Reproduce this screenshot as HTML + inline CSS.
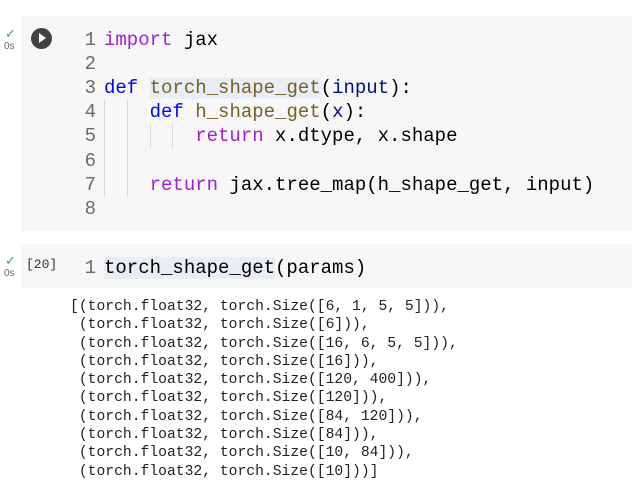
<!DOCTYPE html>
<html><head><style>
html,body{margin:0;padding:0;background:#fff;width:632px;height:500px;overflow:hidden;position:relative;font-family:"Liberation Mono",monospace}
.cell{position:absolute;background:#f7f7f7}
.ln{position:absolute;font-size:19px;line-height:24px;white-space:pre;color:#000}
.num{position:absolute;font-size:19px;line-height:24px;color:#6b6b6b;width:30px;text-align:right;left:66px}
.k{color:#a31fcf}.d{color:#0000ff}.f{color:#795e26}.p{color:#001080}
.hl{background:#e8eef4}
.g{position:absolute;width:1px;background:#d8d8d8}
.out{position:absolute;left:70px;font-size:14.7px;line-height:18.3px;white-space:pre;color:#222}
.chk{position:absolute;color:#2da44e;font-size:13px;font-family:"Liberation Sans",sans-serif}
.t{position:absolute;color:#666;font-size:10px;font-family:"Liberation Sans",sans-serif}
</style></head><body>
<div class="cell" style="left:21px;top:16px;width:611px;height:215px"></div>
<div class="chk" style="left:5px;top:26px">✓</div>
<div class="t" style="left:4px;top:41px">0s</div>
<div style="position:absolute;left:31px;top:28px;width:21px;height:21px;border-radius:50%;background:#424242"></div>
<div style="position:absolute;left:39px;top:33px;width:0;height:0;border-left:7px solid #fff;border-top:5.5px solid transparent;border-bottom:5.5px solid transparent"></div>

<div class="num" style="top:28px">1</div>
<div class="num" style="top:52px">2</div>
<div class="num" style="top:76px">3</div>
<div class="num" style="top:100px">4</div>
<div class="num" style="top:124px">5</div>
<div class="num" style="top:149px">6</div>
<div class="num" style="top:173px">7</div>
<div class="num" style="top:197px">8</div>

<div class="g" style="left:104px;top:100px;height:97px"></div>
<div class="g" style="left:127px;top:100px;height:97px"></div>
<div class="g" style="left:150px;top:124px;height:24px"></div>
<div class="g" style="left:172px;top:124px;height:24px"></div>

<div class="ln" style="left:104px;top:28px"><span class="k">import</span> jax</div>
<div class="ln" style="left:104px;top:76px"><span class="d">def</span> <span class="f hl">torch_shape_get</span>(<span class="p">input</span>):</div>
<div class="ln" style="left:104px;top:100px">    <span class="d">def</span> <span class="f">h_shape_get</span>(<span class="p">x</span>):</div>
<div class="ln" style="left:104px;top:124px">        <span class="k">return</span> x.dtype, x.shape</div>
<div class="ln" style="left:104px;top:173px">    <span class="k">return</span> jax.tree_map(h_shape_get, input)</div>

<div class="cell" style="left:21px;top:244px;width:611px;height:44px"></div>
<div class="chk" style="left:5px;top:253px">✓</div>
<div class="t" style="left:4px;top:268px">0s</div>
<div style="position:absolute;left:26px;top:257px;font-size:13px;color:#333">[20]</div>
<div class="num" style="top:256px">1</div>
<div class="ln" style="left:104px;top:256px"><span class="hl">torch_shape_get</span>(params)</div>

<div class="out" style="top:298px">[(torch.float32, torch.Size([6, 1, 5, 5])),
 (torch.float32, torch.Size([6])),
 (torch.float32, torch.Size([16, 6, 5, 5])),
 (torch.float32, torch.Size([16])),
 (torch.float32, torch.Size([120, 400])),
 (torch.float32, torch.Size([120])),
 (torch.float32, torch.Size([84, 120])),
 (torch.float32, torch.Size([84])),
 (torch.float32, torch.Size([10, 84])),
 (torch.float32, torch.Size([10]))]</div>
</body></html>
